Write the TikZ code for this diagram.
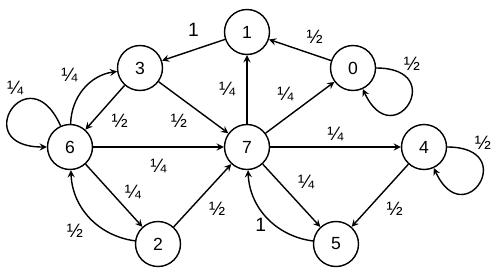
\documentclass[tikz,border=0pt]{standalone}
\usepackage{fontspec}
\setmainfont{Liberation Sans}
\usetikzlibrary{arrows,positioning}

\begin{document}
\begin{tikzpicture}[>=stealth, line width=0.8pt,
    state/.style={draw, circle, minimum size=0.9cm, inner sep=0pt, font=\fontsize{10}{12}\selectfont},
    prob/.style={font=\fontsize{11}{13}\selectfont}]
    \useasboundingbox (0,0) rectangle (10,-5.54);

    % States
    \node[state] (S1) at (4.94, -0.64) {1};
    \node[state] (S3) at (2.80, -1.36) {3};
    \node[state] (S0) at (7.06, -1.36) {0};
    \node[state] (S6) at (1.40, -2.94) {6};
    \node[state] (S7) at (4.94, -2.94) {7};
    \node[state] (S4) at (8.48, -2.94) {4};
    \node[state] (S2) at (3.16, -4.88) {2};
    \node[state] (S5) at (6.72, -4.88) {5};

    % Top part
    \draw[->] (S1) -- (S3) node[prob, midway, above=4pt] {1};
    \draw[->] (S0) -- (S1) node[prob, midway, above right] {½};
    \draw[->] (S0) to[out=0, in=-65, looseness=7.5] node[prob, pos=0.15, above right=-3pt] {½} (S0);
    \draw[->] (S7) -- (S1) node[prob, midway, left=3pt] {¼};
    \draw[->] (S7) -- (S0) node[prob, midway, above left] {¼};
    \draw[->] (S3) -- (S7) node[prob, midway, below left] {½};
    \draw[->] (S3) -- (S6) node[prob, midway, below right] {½};
    \draw[->] (S6) to[bend left=40] node[prob, midway, above left] {¼} (S3);
    \draw[->] (S6) to[out=114, in=180, looseness=8] node[prob, pos=0.45, above=2pt] {¼} (S6);

    % Middle and bottom part
    \draw[->] (S6) -- (S7) node[prob, midway, below=3pt] {¼};
    \draw[->] (S6) -- (S2) node[prob, pos=0.45, right=4pt] {¼};
    \draw[->] (S2) to[bend left=40] node[prob, midway, below left] {½} (S6);
    \draw[->] (S2) -- (S7) node[prob, midway, below right] {½};
    \draw[->] (S7) -- (S4) node[prob, midway, above] {¼};
    \draw[->] (S4) to[out=0, in=-65, looseness=7.5] node[prob, pos=0.15, above right=-3pt] {½} (S4);
    \draw[->] (S4) -- (S5) node[prob, midway, below right] {½};
    \draw[->] (S7) -- (S5) node[prob, midway, above right] {¼};
    \draw[->] (S5) to[bend left=40] node[prob, pos=0.4, left=1pt] {1} (S7);
\end{tikzpicture}
\end{document}
